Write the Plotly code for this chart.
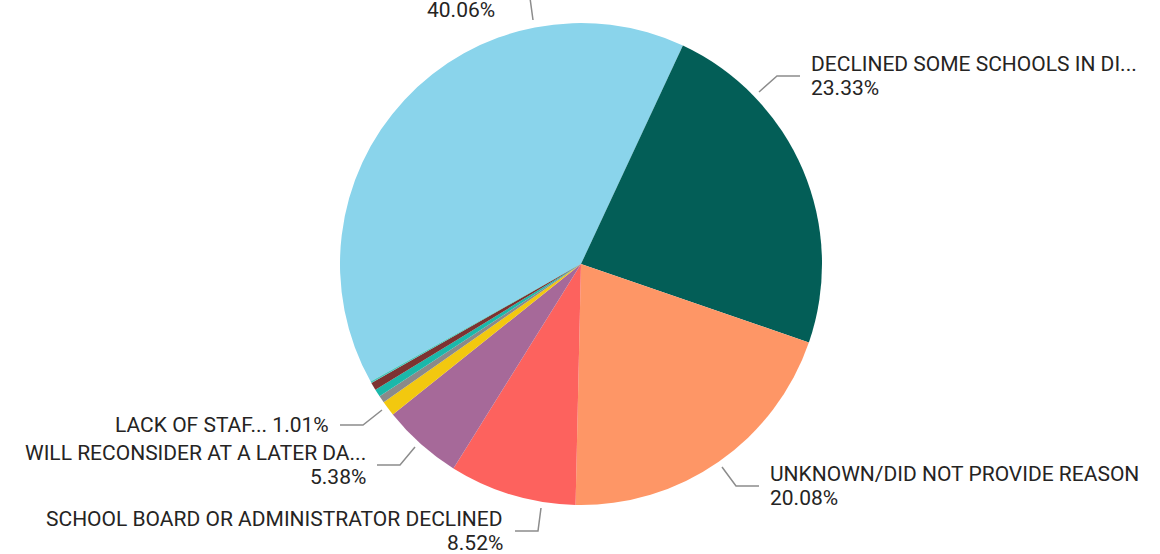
import plotly.graph_objects as go

# ---- data ----
categories = [
    "DECLINED ALL SCHOOLS IN DISTRICT",
    "DECLINED SOME SCHOOLS IN DISTRICT",
    "UNKNOWN/DID NOT PROVIDE REASON",
    "SCHOOL BOARD OR ADMINISTRATOR DECLINED",
    "WILL RECONSIDER AT A LATER DATE",
    "LACK OF STAFF",
    "OTHER A",
    "OTHER B",
    "OTHER C",
    "OTHER D",
]
values = [40.06, 23.33, 20.08, 8.52, 5.38, 1.01, 0.48, 0.52, 0.52, 0.10]
colors = ["#8AD4EB", "#035E57", "#FE9666", "#FD625E", "#A66999",
          "#F2C80F", "#8A8A8A", "#1AB8AA", "#7D3231", "#4AC5BB"]

# shown label names (truncated as in the chart); None = name line not visible
label_names = {
    0: None,
    1: "DECLINED SOME SCHOOLS IN DI...",
    2: "UNKNOWN/DID NOT PROVIDE REASON",
    3: "SCHOOL BOARD OR ADMINISTRATOR DECLINED",
    4: "WILL RECONSIDER AT A LATER DA...",
    5: "LACK OF STAF...",
}

# ---- layout constants (pixels) ----
W, H = 1160, 554
CX, CY, R = 581, 264, 241
LINE_GAP = 24
# leader lines: start, elbow, end
leaders = {
    0: [(533, 20), (530, -2), (505, -2)],
    1: [(759, 92), (777, 76), (800, 76)],
    2: [(722, 467), (736, 486), (759, 486)],
    3: [(541, 508), (538, 531), (515, 531)],
    4: [(415, 447), (400, 465), (377, 465)],
    5: [(382, 410), (363, 425), (340, 425)],
}
# text anchor x, elbow y, side, single-line?
text_pos = {
    0: (497, -2, "right", False),
    1: (809, 76, "left", False),
    2: (768, 486, "left", False),
    3: (505, 531, "right", False),
    4: (368, 465, "right", False),
    5: (331, 425, "right", True),
}

fig = go.Figure()
fig.add_trace(go.Pie(
    labels=categories, values=values, sort=False, direction="clockwise",
    rotation=240.8, marker=dict(colors=colors, line=dict(width=0)),
    textinfo="none", hoverinfo="label+percent", showlegend=False,
    domain=dict(x=[(CX - R) / W, (CX + R) / W],
                y=[(H - CY - R) / H, (H - CY + R) / H]),
))

FONT = dict(family="Roboto, DejaVu Sans, sans-serif", size=21, color="#252423")

for i, pts in leaders.items():
    path = "M {} {} L {} {} L {} {}".format(*pts[0], *pts[1], *pts[2])
    fig.add_shape(type="path", path=path, xref="x", yref="y",
                  line=dict(color="#8C8C8C", width=1.5))

for i, name in label_names.items():
    x, y, side, single = text_pos[i]
    pct = "{:.2f}%".format(values[i])
    if single:
        lines = [(name + " " + pct, y)]
    else:
        lines = [(pct, y + LINE_GAP / 2)]
        if name:
            lines.append((name, y - LINE_GAP / 2))
    for txt, ly in lines:
        fig.add_annotation(x=x, y=ly, xref="x", yref="y", text=txt,
                           showarrow=False, xanchor=side, yanchor="middle",
                           align=side, font=FONT)

fig.update_layout(
    width=W, height=H, margin=dict(l=0, r=0, t=0, b=0),
    paper_bgcolor="white", plot_bgcolor="white",
    xaxis=dict(range=[0, W], visible=False, fixedrange=True),
    yaxis=dict(range=[H, 0], visible=False, fixedrange=True),
)
fig.write_html("out.html", config={"displayModeBar": False},
               post_script="document.body.style.margin='0';document.body.style.overflow='hidden';")
